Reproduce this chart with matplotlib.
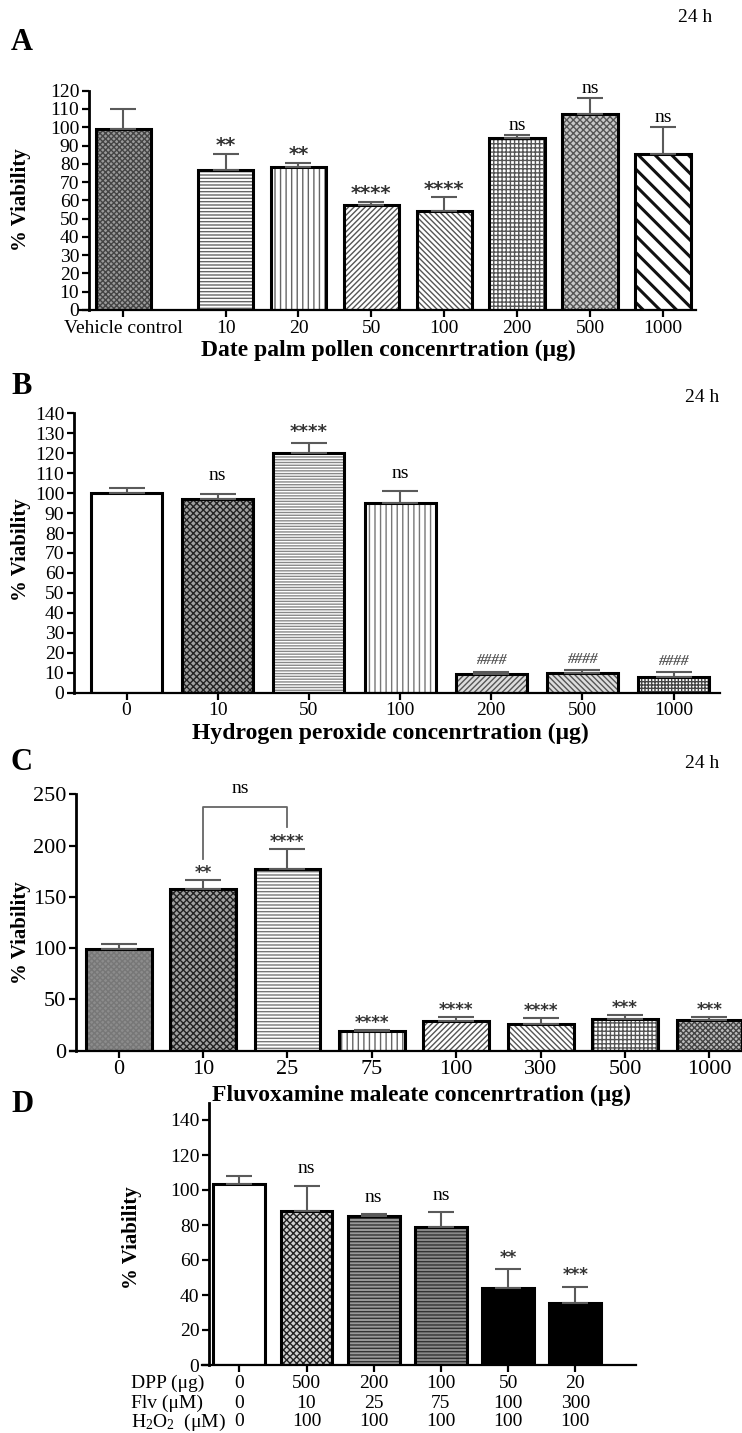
import matplotlib
matplotlib.use('Agg')
import matplotlib.pyplot as plt
import numpy as np

plt.rcParams['font.family'] = ['Liberation Serif', 'DejaVu Serif']
plt.rcParams['mathtext.fontset'] = 'custom'
plt.rcParams['mathtext.rm'] = 'Liberation Serif'
plt.rcParams['mathtext.it'] = 'Liberation Serif:italic'
plt.rcParams['hatch.linewidth'] = 1.0

# ---- data ----
a_labels = ['Vehicle control', '10', '20', '50', '100', '200', '500', '1000']
a_values = [99, 76.5, 78.3, 57.2, 54.3, 94.2, 107, 85.2]
a_err = [11.2, 9.1, 2.0, 1.8, 7.3, 1.6, 9.0, 15.0]
a_sig = ['', '**', '**', '****', '****', 'ns', 'ns', 'ns']

b_labels = ['0', '10', '50', '100', '200', '500', '1000']
b_values = [100, 97, 120.2, 94.9, 9.2, 9.7, 8.0]
b_err = [2.5, 2.8, 5.0, 6.1, 1.3, 1.5, 2.2]
b_sig = ['', 'ns', '****', 'ns', '####', '####', '####']

c_labels = ['0', '10', '25', '75', '100', '300', '500', '1000']
c_values = [99, 157.4, 177.5, 19.2, 29, 26.4, 30.9, 29.9]
c_err = [4.7, 9.0, 18.9, 1.3, 4.2, 5.2, 3.6, 3.3]
c_sig = ['', '**', '****', '****', '****', '****', '***', '***']

d_dpp = ['0', '500', '200', '100', '50', '20']
d_flv = ['0', '10', '25', '75', '100', '300']
d_h2o2 = ['0', '100', '100', '100', '100', '100']
d_values = [103.4, 88, 85.3, 79, 43.8, 35.2]
d_err = [4.6, 14.5, 1.0, 8.2, 10.9, 9.6]
d_sig = ['', 'ns', 'ns', 'ns', '**', '***']

W, H = 742, 1433
fig = plt.figure(figsize=(W / 100, H / 100), dpi=100)


def box(x0, y_top, x1, y_bot):
    return [x0 / W, 1 - y_bot / H, (x1 - x0) / W, (y_bot - y_top) / H]


def ftext(x, y, s, **kw):
    kw.setdefault('ha', 'center')
    kw.setdefault('va', 'center')
    fig.text(x / W, 1 - y / H, s, **kw)


def style_axes(ax, tick_fs, spine_shift=None):
    for s in ['top', 'right']:
        ax.spines[s].set_visible(False)
    ax.spines['left'].set_linewidth(2)
    ax.spines['bottom'].set_linewidth(1.6)
    if spine_shift is not None:
        ax.spines['left'].set_position(('axes', spine_shift))
    ax.tick_params(axis='both', direction='out', length=5, width=1.6,
                   labelsize=tick_fs, pad=2)


def draw_bars(ax, x, vals, errs, styles, width, capsize):
    for xi, v, st in zip(x, vals, styles):
        face, hatch, hc, hlw = st
        p = ax.bar(xi, v, width, color=face, hatch=hatch, edgecolor=hc,
                   linewidth=0, zorder=2)
        if hlw is not None and hasattr(p[0], 'set_hatch_linewidth'):
            p[0].set_hatch_linewidth(hlw)
        ax.bar(xi, v, width, fill=False, edgecolor='black', linewidth=2.2, zorder=3)
    ax.errorbar(x, vals, yerr=[np.zeros(len(vals)), errs], fmt='none',
                ecolor='#5a5a5a', elinewidth=1.5, capsize=capsize, capthick=1.5,
                zorder=4)


def annotate(ax, x, vals, errs, sig, off_ns, off_star, star_fs=13):
    for xi, v, e, s in zip(x, vals, errs, sig):
        if not s:
            continue
        if s == 'ns':
            ax.annotate(s, (xi, v + e), xytext=(0, off_ns), textcoords='offset points',
                        ha='center', va='center', fontsize=14, annotation_clip=False)
        elif s.startswith('#'):
            ax.annotate(s, (xi, v + e), xytext=(0, off_star), textcoords='offset points',
                        ha='center', va='center', fontsize=11, style='italic',
                        fontweight='bold', color='#555', annotation_clip=False)
        else:
            ax.annotate(s, (xi, v + e), xytext=(0, off_star), textcoords='offset points',
                        ha='center', va='center', fontsize=star_fs, fontweight='bold',
                        color='#333', family='DejaVu Sans', annotation_clip=False)


# ---------------- Panel A ----------------
axA = fig.add_axes(box(79, 90.7, 696, 310))
xa = np.r_[0, np.arange(1, len(a_values)) + 0.4]
stylesA = [('#9a9a9a', 'xxxxxx', '#444', None),
           ('white', '-----', '#666', None),
           ('white', '|||', '#666', None),
           ('white', '//////', '#555', None),
           ('white', '\\\\\\\\\\\\', '#555', None),
           ('white', '++++', '#555', None),
           ('#c8c8c8', 'xxxxx', '#555', None),
           ('white', '\\\\', '#111', 2.2)]
draw_bars(axA, xa, a_values, a_err, stylesA, 0.76, 9.5)
axA.set_xlim(-0.61, 7.853)
axA.set_ylim(0, 120)
axA.set_yticks(np.arange(0, 121, 10))
axA.set_xticks(xa)
axA.set_xticklabels(a_labels)
style_axes(axA, 14, 10 / 617)
annotate(axA, xa, a_values, a_err, a_sig, 7, 6, star_fs=14)
ftext(22, 42, 'A', fontsize=22, fontweight='bold')
ftext(695, 18, '24 h', fontsize=14)
ftext(388, 350, 'Date palm pollen concenrtration (μg)', fontsize=17, fontweight='bold')
ftext(21, 200, '% Viability', fontsize=15, fontweight='bold', rotation=90)

# ---------------- Panel B ----------------
axB = fig.add_axes(box(74, 413.3, 720, 692.7))
xb = np.arange(len(b_values))
stylesB = [('white', '', 'black', None),
           ('#a0a0a0', 'xxxxx', '#222', None),
           ('white', '------', '#888', None),
           ('white', '|||', '#777', None),
           ('#dddddd', '//////', '#555', None),
           ('#dddddd', '\\\\\\\\\\\\', '#555', None),
           ('white', '+++++', '#444', None)]
draw_bars(axB, xb, b_values, b_err, stylesB, 0.78, 13)
axB.set_xlim(-0.576, 6.508)
axB.set_ylim(0, 140)
axB.set_yticks(np.arange(0, 141, 10))
axB.set_xticks(xb)
axB.set_xticklabels(b_labels)
style_axes(axB, 14)
annotate(axB, xb, b_values, b_err, b_sig, 13, 8, star_fs=13)
ftext(22, 387, 'B', fontsize=22, fontweight='bold')
ftext(702, 397, '24 h', fontsize=14)
ftext(390, 733, 'Hydrogen peroxide concenrtration (μg)', fontsize=17, fontweight='bold')
ftext(21, 550, '% Viability', fontsize=15, fontweight='bold', rotation=90)

# ---------------- Panel C ----------------
axC = fig.add_axes(box(70, 794.3, 742, 1050.7))
xc = np.arange(len(c_values))
stylesC = [('#8c8c8c', 'xxxxxx', '#777', None),
           ('#a0a0a0', 'xxxxx', '#222', None),
           ('white', '-----', '#777', None),
           ('white', '|||', '#666', None),
           ('white', '//////', '#555', None),
           ('white', '\\\\\\\\\\\\', '#555', None),
           ('white', '++++', '#555', None),
           ('#bbbbbb', 'xxxxxx', '#444', None)]
draw_bars(axC, xc, c_values, c_err, stylesC, 0.78, 13)
axC.set_xlim(-0.576, 7.386)
axC.set_ylim(0, 250)
axC.set_yticks(np.arange(0, 251, 50))
axC.set_xticks(xc)
axC.set_xticklabels(c_labels)
style_axes(axC, 16, 6 / 672)
annotate(axC, xc, c_values, c_err, c_sig, 8, 5, star_fs=12)
# ns bracket between 10 and 25
bx = [xc[1], xc[1], xc[2], xc[2]]
by = [c_values[1] + c_err[1] + 21, 238, 238, c_values[2] + c_err[2] + 22]
axC.plot(bx, by, color='#666', lw=1.3, clip_on=False, zorder=5)
axC.text((xc[1] + xc[2]) / 2 - 0.06, 256, 'ns', ha='center', va='center', fontsize=14)
ftext(21, 762, 'C', fontsize=22, fontweight='bold')
ftext(702, 763, '24 h', fontsize=14)
ftext(422, 1095, 'Fluvoxamine maleate concenrtration (μg)', fontsize=17, fontweight='bold')
ftext(21, 933, '% Viability', fontsize=15, fontweight='bold', rotation=90)

# ---------------- Panel D ----------------
axD = fig.add_axes(box(201.6, 1102.5, 636, 1365))
xd = np.arange(len(d_values))
stylesD = [('white', '', 'black', None),
           ('#d0d0d0', 'xxxxx', '#222', None),
           ('#9a9a9a', '-----', '#333', None),
           ('#8a8a8a', '-----', '#333', None),
           ('black', '', 'black', None),
           ('black', '', 'black', None)]
draw_bars(axD, xd, d_values, d_err, stylesD, 0.77, 9.5)
axD.set_xlim(-0.561, 5.903)
axD.set_ylim(0, 150)
axD.set_yticks(np.arange(0, 141, 20))
axD.set_xticks(xd)
axD.set_xticklabels([])
style_axes(axD, 14, 7.4 / 434.4)
annotate(axD, xd, d_values, d_err, d_sig, 12, 8, star_fs=12)
ftext(22, 1105, 'D', fontsize=22, fontweight='bold')
ftext(132, 1238, '% Viability', fontsize=15, fontweight='bold', rotation=90)

# dose table under panel D
rows = [('DPP (μg)', d_dpp, 1383), ('Flv (μM)', d_flv, 1403),
        (r'H$_2$O$_2$  (μM)', d_h2o2, 1422)]
trans = matplotlib.transforms.blended_transform_factory(axD.transData, fig.transFigure)
for name, vals, ypx in rows:
    ftext(131, ypx, name, fontsize=14, ha='left')
    for xi, v in zip(xd, vals):
        axD.text(xi, 1 - ypx / H, v, transform=trans, ha='center', va='center',
                 fontsize=14)

fig.savefig('out.png', dpi=100)
